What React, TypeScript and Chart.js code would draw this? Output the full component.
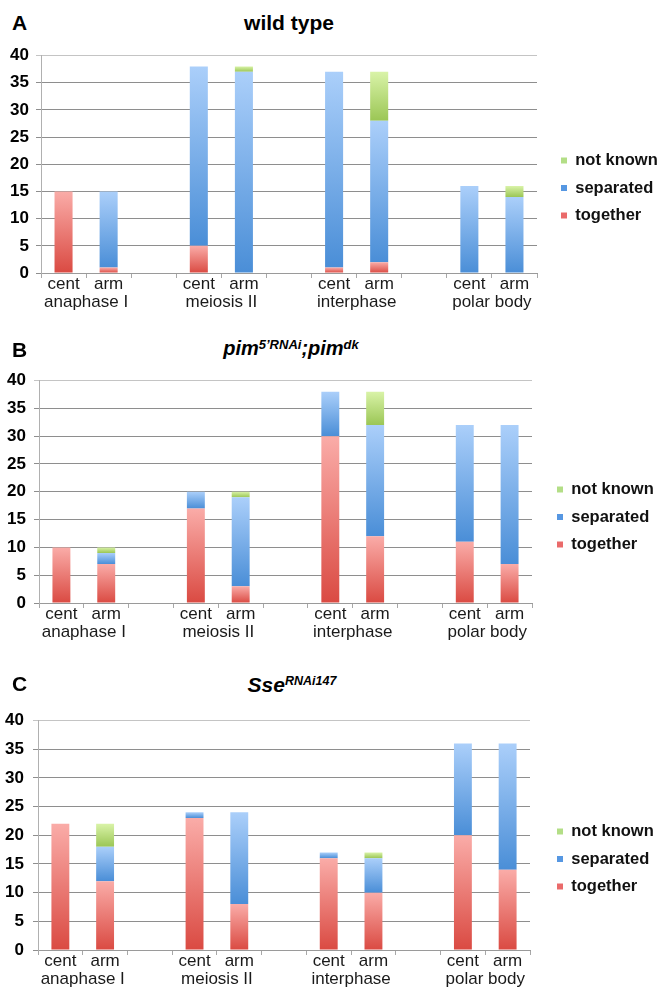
import React, { useEffect, useRef } from 'react';
import { Chart, registerables } from 'chart.js';

Chart.register(...registerables);
Chart.defaults.font.family = "'Liberation Sans', Arial, Helvetica, sans-serif";

// ---- data ----
const xLabels = ['cent', 'arm', '', 'cent', 'arm', '', 'cent', 'arm', '', 'cent', 'arm'];
const groupLabels = ['anaphase I', 'meiosis II', 'interphase', 'polar body'];
const groupPositions = [0.5, 3.5, 6.5, 9.5];
const seriesNames = ['together', 'separated', 'not known'];
const yMax = 40;
const yStep = 5;

// Panel A: wild type
const wtTogether = [15, 1, 0, 5, 0, 0, 1, 2, 0, 0, 0];
const wtSeparated = [0, 14, 0, 33, 37, 0, 36, 26, 0, 16, 14];
const wtNotKnown = [0, 0, 0, 0, 1, 0, 0, 9, 0, 0, 2];

// Panel B: pim5'RNAi;pimdk
const pimTogether = [10, 7, 0, 17, 3, 0, 30, 12, 0, 11, 7];
const pimSeparated = [0, 2, 0, 3, 16, 0, 8, 20, 0, 21, 25];
const pimNotKnown = [0, 1, 0, 0, 1, 0, 0, 6, 0, 0, 0];

// Panel C: SseRNAi147
const sseTogether = [22, 12, 0, 23, 8, 0, 16, 10, 0, 20, 14];
const sseSeparated = [0, 6, 0, 1, 16, 0, 1, 6, 0, 16, 22];
const sseNotKnown = [0, 4, 0, 0, 0, 0, 0, 1, 0, 0, 0];

// ---- styles ----
const lightColors = ['#faaca8', '#abcffa', '#d9f3a8'];
const darkColors = ['#da4a42', '#4a8ed7', '#9bc655'];
const legendColors = ['#ea6a6a', '#5697e2', '#b3de86'];
const FONT = "'Liberation Sans', Arial, Helvetica, sans-serif";

function makeFill(si: number) {
  return (ctx: any) => {
    const dark = darkColors[si];
    if (ctx.type !== 'data') return dark;
    const chart = ctx.chart;
    const y = chart.scales && chart.scales.y;
    const ds = chart.data.datasets;
    const i = ctx.dataIndex;
    const v = Number(ds[ctx.datasetIndex].data[i]) || 0;
    if (!y || !v) return dark;
    let base = 0;
    for (let k = 0; k < ctx.datasetIndex; k++) base += Number(ds[k].data[i]) || 0;
    const top = y.getPixelForValue(base + v);
    const bottom = y.getPixelForValue(base);
    if (!isFinite(top) || !isFinite(bottom) || top === bottom) return dark;
    const g = chart.ctx.createLinearGradient(0, top, 0, bottom);
    g.addColorStop(0, lightColors[si]);
    g.addColorStop(1, dark);
    return g;
  };
}

type Spec = {
  top: number;
  height: number;
  yW: number;
  spacer: number;
  legendW: number;
  x2H: number;
  legendTitleH: number;
  yPad: number;
  series: number[][];
};

const panels: Spec[] = [
  { top: 40, height: 287, yW: 41, spacer: 13, legendW: 110, x2H: 34, legendTitleH: 0, yPad: 7, series: [wtTogether, wtSeparated, wtNotKnown] },
  { top: 364, height: 297, yW: 39, spacer: 14, legendW: 114, x2H: 38, legendTitleH: 0, yPad: 8, series: [pimTogether, pimSeparated, pimNotKnown] },
  { top: 703, height: 284, yW: 38, spacer: 16, legendW: 114, x2H: 17, legendTitleH: 19, yPad: 9, series: [sseTogether, sseSeparated, sseNotKnown] },
];

function Panel({ spec }: { spec: Spec }) {
  const ref = useRef<HTMLCanvasElement>(null);
  useEffect(() => {
    if (!ref.current) return;
    const chart = new Chart(ref.current, {
      type: 'bar',
      data: {
        labels: xLabels,
        datasets: spec.series.map((data, si) => ({
          label: seriesNames[si],
          data,
          xAxisID: 'x',
          yAxisID: 'y',
          backgroundColor: makeFill(si),
          borderWidth: 0,
          barPercentage: 0.4,
          categoryPercentage: 1.0,
        })),
      },
      options: {
        responsive: false,
        animation: false,
        events: [],
        layout: { padding: { top: 9, left: 0, right: 0, bottom: 0 } },
        plugins: {
          title: { display: false },
          tooltip: { enabled: false },
          legend: {
            position: 'right',
            reverse: true,
            maxWidth: spec.legendW,
            title: {
              display: spec.legendTitleH > 0,
              text: '',
              font: { size: Math.max(spec.legendTitleH, 1), lineHeight: 1 },
              padding: 0,
            },
            labels: {
              boxWidth: 6,
              boxHeight: 6,
              padding: 11,
              color: '#111',
              font: { size: 16.5, weight: 'bold' },
              generateLabels: (c: any) =>
                c.data.datasets.map((d: any, i: number) => ({
                  text: d.label,
                  fillStyle: legendColors[i],
                  strokeStyle: legendColors[i],
                  lineWidth: 0,
                  hidden: false,
                  datasetIndex: i,
                  fontColor: '#111',
                })),
            },
          },
        },
        scales: {
          x: {
            type: 'category',
            stacked: true,
            offset: true,
            grid: {
              display: true,
              offset: true,
              drawOnChartArea: false,
              drawTicks: true,
              tickLength: 5,
              color: '#a8a8a8',
            },
            border: { display: true, color: '#9a9a9a' },
            ticks: {
              color: '#1a1a1a',
              font: { size: 17, lineHeight: 1.1 },
              padding: -3,
              maxRotation: 0,
              autoSkip: false,
            },
            afterFit: (s: any) => {
              s.height = 20;
            },
          },
          x2: {
            type: 'linear',
            position: 'bottom',
            min: -0.5,
            max: 10.5,
            offset: false,
            grid: { display: false, drawTicks: false, tickLength: 0 },
            border: { display: false },
            ticks: {
              color: '#1a1a1a',
              font: { size: 17, lineHeight: 1.1 },
              padding: 0,
              maxRotation: 0,
              autoSkip: false,
              callback: (_v: any, i: number) => groupLabels[i] ?? '',
            },
            afterBuildTicks: (s: any) => {
              s.ticks = groupPositions.map((v) => ({ value: v }));
            },
            afterFit: (s: any) => {
              s.height = spec.x2H;
            },
          },
          y: {
            type: 'linear',
            stacked: true,
            min: 0,
            max: yMax,
            ticks: {
              stepSize: yStep,
              color: '#000',
              font: { size: 17, weight: 'bold', lineHeight: 1 },
              padding: spec.yPad,
            },
            grid: {
              color: (c: any) => (c.tick && c.tick.value === yMax ? '#c4c4c4' : '#8e8e8e'),
              tickLength: 5,
              drawTicks: true,
            },
            border: { color: '#b0b0b0' },
            afterFit: (s: any) => {
              s.width = spec.yW;
            },
          },
          y2: {
            type: 'linear',
            position: 'right',
            display: true,
            grid: { display: false, drawTicks: false },
            border: { display: false },
            ticks: { display: false },
            afterFit: (s: any) => {
              s.width = spec.spacer;
            },
          },
        },
      } as any,
    });
    return () => chart.destroy();
  }, [spec]);
  return (
    <canvas
      ref={ref}
      width={660}
      height={spec.height}
      style={{ position: 'absolute', left: 0, top: spec.top, width: 660, height: spec.height }}
    />
  );
}

const letterStyle = (top: number): React.CSSProperties => ({
  position: 'absolute',
  left: 12,
  top,
  fontSize: 21,
  lineHeight: '21px',
  fontWeight: 'bold',
  fontFamily: FONT,
  color: '#000',
});

const titleStyle = (top: number, center: number, size: number, italic: boolean): React.CSSProperties => ({
  position: 'absolute',
  left: center - 150,
  width: 300,
  top,
  textAlign: 'center',
  fontSize: size,
  lineHeight: `${size}px`,
  fontWeight: 'bold',
  fontStyle: italic ? 'italic' : 'normal',
  fontFamily: FONT,
  color: '#000',
  whiteSpace: 'nowrap',
});

const sup = (size: number, raise: number): React.CSSProperties => ({
  fontSize: size,
  position: 'relative',
  top: -raise,
  lineHeight: '1',
});

export default function App() {
  return (
    <div style={{ position: 'absolute', left: 0, top: 0, width: 660, height: 987, background: '#fff', overflow: 'hidden' }}>
      {panels.map((p, i) => (
        <Panel key={i} spec={p} />
      ))}
      <div style={letterStyle(12)}>A</div>
      <div style={letterStyle(339)}>B</div>
      <div style={letterStyle(673)}>C</div>
      <div style={titleStyle(12, 289, 21, false)}>wild type</div>
      <div style={titleStyle(338, 291, 20, true)}>
        pim<span style={sup(13, 6)}>5’RNAi</span>;pim<span style={sup(13, 6)}>dk</span>
      </div>
      <div style={titleStyle(674, 292, 21, true)}>
        Sse<span style={sup(12.5, 7)}>RNAi147</span>
      </div>
    </div>
  );
}
